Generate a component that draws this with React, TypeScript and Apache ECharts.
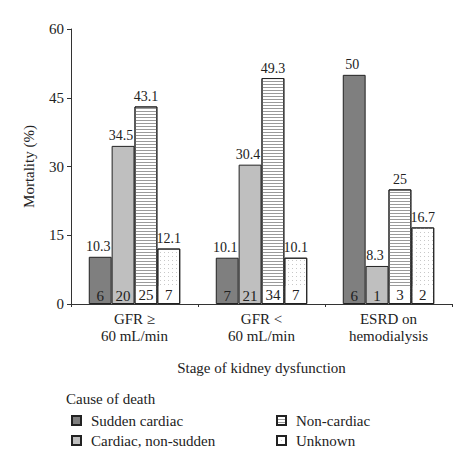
import React, { useEffect, useRef } from "react";
import * as echarts from "echarts";

const categories = ["GFR \u2265\n60 mL/min", "GFR <\n60 mL/min", "ESRD on\nhemodialysis"];
const seriesNames = ["Sudden cardiac", "Cardiac, non-sudden", "Non-cardiac", "Unknown"];
const suddenCardiac = [10.3, 10.1, 50];
const cardiacNonSudden = [34.5, 30.4, 8.3];
const nonCardiac = [43.1, 49.3, 25];
const unknown = [12.1, 10.1, 16.7];
const suddenCounts = [6, 7, 6];
const cardiacCounts = [20, 21, 1];
const nonCardiacCounts = [25, 34, 3];
const unknownCounts = [7, 7, 2];
const yTicks = { min: 0, max: 60, interval: 15 };

const FONT = "'Liberation Serif', 'DejaVu Serif', serif";
const TXT = "#222";
const FS = 15;

export default function App() {
  const ref = useRef<HTMLDivElement>(null);
  useEffect(() => {
    if (!ref.current) return;
    const chart = echarts.init(ref.current, undefined, { renderer: "svg" });
    const values = [suddenCardiac, cardiacNonSudden, nonCardiac, unknown];
    const counts = [suddenCounts, cardiacCounts, nonCardiacCounts, unknownCounts];
    const colors = ["#7f7f7f", "#bfbfbf", "#ffffff", "#ffffff"];
    const decals: any[] = [
      undefined,
      undefined,
      { symbol: "rect", symbolSize: 1, dashArrayX: [1, 0], dashArrayY: [1, 2], color: "#9a9a9a" },
      { symbol: "rect", symbolSize: 1, dashArrayX: [1, 3], dashArrayY: [1, 3], color: "#c8c8c8" },
    ];
    const series: any[] = [];
    values.forEach((vals, i) => {
      series.push({
        name: seriesNames[i],
        type: "bar",
        stack: "s" + i,
        data: vals,
        barGap: "0%",
        barCategoryGap: "28%",
        itemStyle: {
          color: colors[i],
          borderColor: "#222",
          borderWidth: 1,
          decal: decals[i],
        },
        label: {
          show: true,
          position: "insideBottom",
          distance: 1,
          formatter: (p: any) => String(counts[i][p.dataIndex]),
          fontFamily: FONT,
          fontSize: FS,
          color: TXT,
          ...(i >= 2
            ? { backgroundColor: "#fff", width: 20, height: 17, lineHeight: 17, align: "center" }
            : {}),
        },
      });
    });
    values.forEach((vals, i) => {
      series.push({
        name: seriesNames[i] + "_lbl",
        type: "bar",
        stack: "s" + i,
        data: vals.map(() => 0),
        itemStyle: { color: "transparent", borderWidth: 0 },
        z: 5,
        label: {
          show: true,
          position: "top",
          distance: 3,
          offset: i < 2 ? [-2, 0] : [0, 0],
          formatter: (p: any) => String(vals[p.dataIndex]),
          fontFamily: FONT,
          fontSize: 14,
          color: TXT,
        },
      });
    });
    const legendText = { fontFamily: FONT, fontSize: FS, color: TXT, lineHeight: 14, padding: [0, 0, 0, 5] };
    chart.setOption({
      animation: false,
      textStyle: { fontFamily: FONT },
      grid: { left: 71, right: 18, top: 29, bottom: 152 },
      xAxis: {
        type: "category",
        data: categories,
        name: "Stage of kidney dysfunction",
        nameLocation: "middle",
        nameGap: 56,
        nameTextStyle: { fontFamily: FONT, fontSize: FS, color: TXT },
        axisLine: { lineStyle: { color: "#333", width: 1 } },
        axisTick: { show: true, length: 3, lineStyle: { color: "#333" } },
        axisLabel: { fontFamily: FONT, fontSize: FS, color: TXT, lineHeight: 17, margin: 6 },
      },
      yAxis: {
        type: "value",
        min: yTicks.min,
        max: yTicks.max,
        interval: yTicks.interval,
        name: "Mortality (%)",
        nameLocation: "middle",
        nameGap: 35,
        nameTextStyle: { fontFamily: FONT, fontSize: FS, color: TXT },
        axisLine: { show: true, lineStyle: { color: "#333", width: 1 } },
        axisTick: { show: true, length: 4, lineStyle: { color: "#333" } },
        axisLabel: { fontFamily: FONT, fontSize: FS, color: TXT, margin: 7 },
        splitLine: { show: false },
      },
      legend: [
        {
          data: [seriesNames[0], seriesNames[1]],
          orient: "vertical",
          left: 66,
          top: 408,
          icon: "rect",
          itemWidth: 9,
          itemHeight: 9,
          itemGap: 5,
          selectedMode: false,
          textStyle: legendText,
        },
        {
          data: [seriesNames[2], seriesNames[3]],
          orient: "vertical",
          left: 271,
          top: 408,
          icon: "rect",
          itemWidth: 9,
          itemHeight: 9,
          itemGap: 5,
          selectedMode: false,
          textStyle: legendText,
        },
      ],
      graphic: [
        {
          type: "text",
          left: 66,
          top: 391,
          style: { text: "Cause of death", fontFamily: FONT, fontSize: FS, fill: TXT },
        },
      ],
      series,
    });
    return () => chart.dispose();
  }, []);
  return (
    <div
      ref={ref}
      style={{ position: "fixed", left: 0, top: 0, width: 470, height: 456, background: "#fff" }}
    />
  );
}
